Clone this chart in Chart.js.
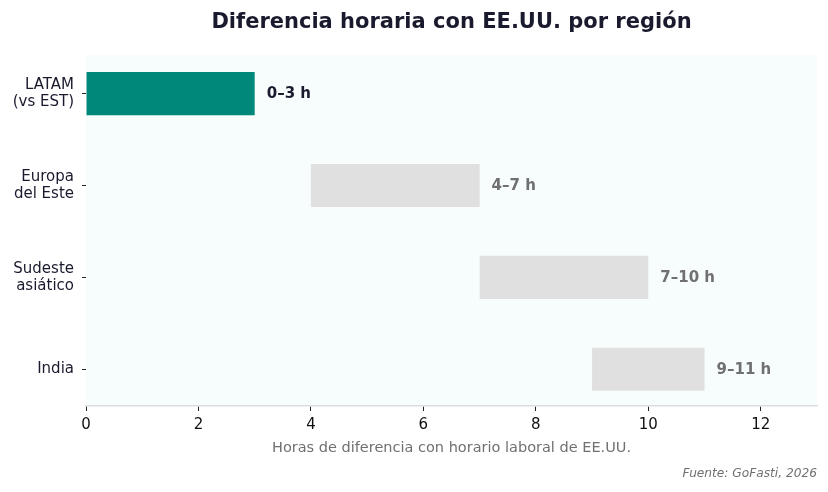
<!DOCTYPE html>
<html><head><meta charset="utf-8">
<script src="https://cdn.jsdelivr.net/npm/chart.js@4.4.1/dist/chart.umd.min.js"></script>
<style>html,body{margin:0;padding:0;background:#fff}#wrap{width:828px;height:492px}</style>
</head><body><div id="wrap"><canvas id="c" width="828" height="492"></canvas></div>
<script>
const categories = [["LATAM","(vs EST)"],["Europa","del Este"],["Sudeste","asiático"],["India"]];
const rangeStart = [0,4,7,9];
const rangeEnd = [3,7,10,11];
const barLabels = ["0–3 h","4–7 h","7–10 h","9–11 h"];
const xTicks = [0,2,4,6,8,10,12];
const titleText = "Diferencia horaria con EE.UU. por región";
const xTitle = "Horas de diferencia con horario laboral de EE.UU.";
const sourceText = "Fuente: GoFasti, 2026";

const FONT = "'DejaVu Sans', sans-serif";
const highlight = '#00897b', muted = '#e0e0e0';

const decor = {
  id:'decor',
  beforeDraw(chart){
    const {ctx, chartArea:a} = chart;
    ctx.save();
    ctx.fillStyle = '#f7fdfd';
    ctx.fillRect(a.left, a.top, a.right-a.left, a.bottom-a.top);
    ctx.restore();
  },
  afterDatasetsDraw(chart){
    const {ctx} = chart;
    const meta = chart.getDatasetMeta(0);
    ctx.save();
    ctx.font = "bold 15px " + FONT;
    ctx.textBaseline = 'middle';
    ctx.textAlign = 'left';
    meta.data.forEach((el,i)=>{
      ctx.fillStyle = i===0 ? '#1a1a2e' : '#707070';
      ctx.fillText(barLabels[i], el.x + 12, el.y + 1);
    });
    ctx.restore();
  },
  afterDraw(chart){
    const {ctx, chartArea:a} = chart;
    const cx = (a.left + a.right)/2;
    ctx.save();
    ctx.textAlign = 'center'; ctx.textBaseline = 'middle';
    ctx.fillStyle = '#1a1a2e';
    ctx.font = "bold 21px " + FONT;
    ctx.fillText(titleText, cx, 23);
    ctx.fillStyle = '#707070';
    ctx.font = "14.5px " + FONT;
    ctx.fillText(xTitle, cx, 448);
    ctx.font = "italic 12.2px " + FONT;
    ctx.textAlign = 'right';
    ctx.fillText(sourceText, a.right, 474);
    ctx.restore();
  }
};

new Chart(document.getElementById('c'), {
  type:'bar',
  data:{
    datasets:[{
      data: rangeStart.map((s,i)=>({x:[s, rangeEnd[i]], y:i})),
      backgroundColor: rangeStart.map((s,i)=> i===0 ? highlight : muted),
      borderWidth:0,
      barPercentage:0.47,
      categoryPercentage:1
    }]
  },
  options:{
    indexAxis:'y',
    responsive:false,
    animation:false,
    layout:{padding:{top:55,right:11,left:0,bottom:0}},
    plugins:{legend:{display:false},tooltip:{enabled:false},title:{display:false}},
    scales:{
      x:{
        type:'linear', min:0, max:13, offset:false,
        afterBuildTicks(s){ s.ticks = xTicks.map(v=>({value:v})); },
        afterFit(s){ s.height = 86; },
        grid:{drawOnChartArea:false, drawTicks:true, tickLength:5, color:'#222', offset:false},
        border:{display:true, color:'#dddddd', width:1.5},
        ticks:{color:'#111', font:{family:FONT, size:15}, padding:5, maxRotation:0}
      },
      y:{
        type:'linear', min:-0.42, max:3.40, reverse:true, offset:false,
        afterBuildTicks(s){ s.ticks = categories.map((c,i)=>({value:i})); },
        afterFit(s){ s.width = 86; },
        grid:{drawOnChartArea:false, drawTicks:true, tickLength:4, color:'#222', offset:false},
        border:{display:false},
        ticks:{color:'#1a1a2e', font:{family:FONT, size:15, lineHeight:1.1}, padding:8,
          callback:(v)=> categories[v] || ''}
      }
    }
  },
  plugins:[decor]
});
</script></body></html>
